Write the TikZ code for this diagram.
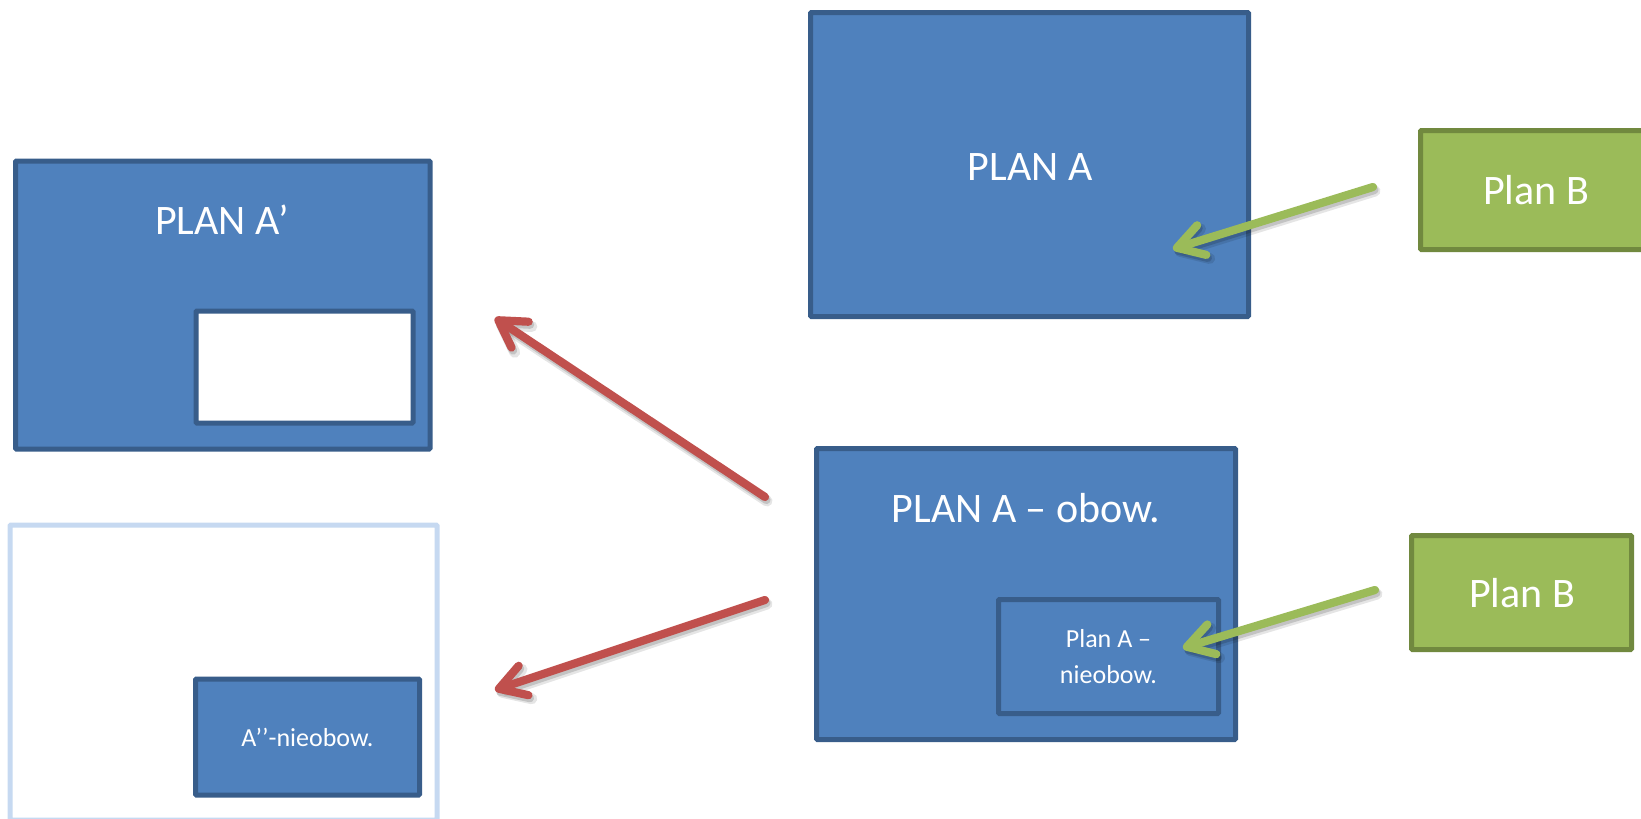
\documentclass[tikz,border=0pt]{standalone}
\usepackage{fontspec}
\setmainfont{Carlito}
\usetikzlibrary{arrows.meta}

\definecolor{boxfill}{HTML}{4F81BD}
\definecolor{boxline}{HTML}{385D8A}
\definecolor{bfill}{HTML}{9BBB59}
\definecolor{bline}{HTML}{71893F}
\definecolor{arrred}{HTML}{C0504D}
\definecolor{paleline}{HTML}{C6D9F1}

\tikzset{
  blockbox/.style={draw=boxline, fill=boxfill, line width=5pt, rounded corners=1pt,
    inner sep=0pt, minimum width=#1},
  planbbox/.style={draw=bline, fill=bfill, line width=5pt, rounded corners=1pt,
    inner sep=0pt},
  blank/.style={draw=boxline, fill=white, line width=5pt, rounded corners=1pt, inner sep=0pt},
  ghost/.style={draw=paleline, fill=white, line width=5pt, rounded corners=1pt, inner sep=0pt},
  bigtxt/.style={text=white, font=\fontsize{42}{50}\selectfont, inner sep=0pt, anchor=base},
  smalltxt/.style={text=white, font=\fontsize{26}{30}\selectfont, inner sep=0pt, anchor=base},
  flow/.style={line width=8.2pt, line cap=round, line join=round,
    -{Straight Barb[length=26pt,width=31pt,line cap=round,line join=round]}},
  flowshadow/.style={flow, draw=black, opacity=#1},
}

\begin{document}
\begin{tikzpicture}[x=1pt,y=-1pt]
  \useasboundingbox (0,0) rectangle (1641,819);
  \clip (0,0) rectangle (1641,819);

  % left column
  \node[blockbox=414.5pt, minimum height=288pt] (aprime) at (222.75,305) {};
  \node[blank, minimum width=217pt, minimum height=112pt] (gap) at (304.5,367) {};
  \node[bigtxt] (aprimetxt) at (222,234) {PLAN A’};

  \node[ghost, minimum width=427pt, minimum height=295pt] (frame) at (223.5,672.5) {};
  \node[blockbox=224pt, minimum height=116pt] (asec) at (307.5,737) {};
  \node[smalltxt] (asectxt) at (307.5,746) {A’’-nieobow.};

  % middle column
  \node[blockbox=438pt, minimum height=304pt] (plana) at (1029.5,164.5) {};
  \node[bigtxt] (planatxt) at (1030,180) {PLAN A};

  \node[blockbox=419pt, minimum height=291pt] (obow) at (1026,594) {};
  \node[bigtxt] (obowtxt) at (1026,522.5) {PLAN A – obow.};
  \node[blockbox=220pt, minimum height=114pt] (nieobow) at (1108.5,656.5) {};
  \node[smalltxt] (nieobowtxta) at (1108.5,647) {Plan A –};
  \node[smalltxt] (nieobowtxtb) at (1108.5,683.5) {nieobow.};

  % right column
  \node[planbbox, minimum width=231pt, minimum height=119pt] (planb) at (1536,190) {};
  \node[bigtxt] (planbtxt) at (1536,204) {Plan B};
  \node[planbbox, minimum width=220pt, minimum height=114pt] (planbb) at (1521.5,592.5) {};
  \node[bigtxt] (planbbtxt) at (1522,607) {Plan B};

  % free ends of the arrows
  \coordinate (r1s) at (765,497);
  \coordinate (r1e) at (495,318);
  \coordinate (r2s) at (765,600);
  \coordinate (r2e) at (495,690);
  \coordinate (g1s) at (1373,187);
  \coordinate (g1e) at (1173,249);
  \coordinate (g2s) at (1375,590);
  \coordinate (g2e) at (1183,648);

  % soft shadows under the arrows
  \foreach \a/\b in {r1s/r1e, r2s/r2e, g1s/g1e, g2s/g2e} {
    \draw[flowshadow=0.10, line width=11pt] ([shift={(2,4)}]\a) -- ([shift={(2,4)}]\b);
    \draw[flowshadow=0.15] ([shift={(1.5,3)}]\a) -- ([shift={(1.5,3)}]\b);
  }

  \draw[flow, draw=arrred] (r1s) -- (r1e);
  \draw[flow, draw=arrred] (r2s) -- (r2e);
  \draw[flow, draw=bfill] (g1s) -- (g1e);
  \draw[flow, draw=bfill] (g2s) -- (g2e);
\end{tikzpicture}
\end{document}
